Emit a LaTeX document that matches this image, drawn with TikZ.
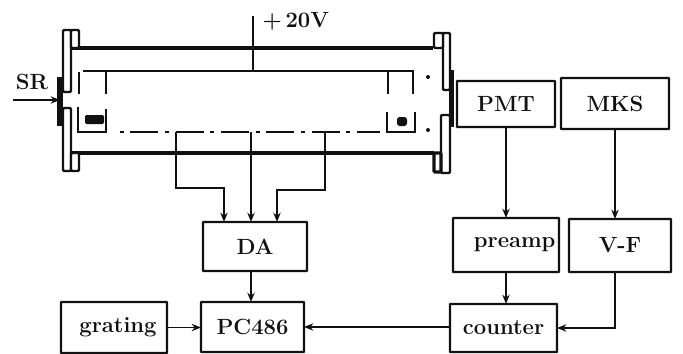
\RequirePackage{fix-cm}
\documentclass[tikz,border=0pt]{standalone}
\usepackage{amsmath}
\usepackage{xcolor}
\usetikzlibrary{arrows.meta,positioning,calc}
\definecolor{inkdark}{HTML}{111111}

\begin{document}
\begin{tikzpicture}[
  x=0.75pt, y=-0.75pt,
  boxfont/.style={font=\fontsize{16.5}{16.5}\selectfont\bfseries\color{inkdark}},
  blockbox/.style={boxfont, draw=inkdark, line width=1.8pt, rounded corners=0.5pt, inner sep=0pt, outer sep=0pt},
  tubewall/.style={draw=inkdark, line width=3.6pt},
  flange/.style={draw=inkdark, line width=1.8pt, fill=white, rounded corners=0.8pt},
  plate/.style={fill=inkdark},
  electrode/.style={draw=inkdark, line width=1.6pt},
  wire/.style={draw=inkdark, line width=1.6pt},
  sigwire/.style={wire, -{Stealth[length=7pt,width=5.5pt]}},
]
\useasboundingbox (0,0) rectangle (683,354);

% tube body
\draw[tubewall] (72,48) -- (433,48);
\draw[tubewall] (72,153) -- (434,153);
\draw[flange] (63,30) rectangle (71,92);
\draw[flange] (71,30) rectangle (79,48);
\draw[flange] (63,108) rectangle (71,171);
\draw[flange] (71,153) rectangle (79,171);
\draw[flange] (443,33) rectangle (450,90);
\draw[flange] (434,33) rectangle (443,48);
\draw[flange] (441,115) rectangle (450,173);
\draw[flange, line width=2.4pt] (434,153) rectangle (441,172);
\fill[plate] (57,77) rectangle (63,126);
\fill[plate] (449,70) rectangle (454,127);

% inner electrodes
\draw[electrode] (83,71) -- (413,71) -- (413,94);
\foreach \x in {79,106,388} {
  \draw[electrode] (\x,72) -- (\x,94);
}
\draw[electrode] (78,107) -- (78,132) -- (106,132) -- (106,109);
\draw[electrode] (387,112) -- (387,132) -- (415,132) -- (415,112);
\fill[inkdark, rounded corners=1pt] (85,115) rectangle (104,124);
\fill[inkdark, rounded corners=2pt] (397,117) rectangle (407,126);
\fill[inkdark] (428,77) circle (2);
\fill[inkdark] (428,130) circle (2);
\draw[electrode, dash pattern=on 21pt off 5pt on 3pt off 5pt, dash phase=24pt] (117,132) -- (380,132);

% blocks
\foreach \name/\x/\y/\w/\h/\txt in {
  pmt/506/104/98/46/PMT,
  mks/615/103.5/108/51/MKS,
  da/255/246.5/104/49/DA,
  pc/252.5/327/103/50/PC486,
  grating/114/327.5/106/51/{\hspace{6pt}grating},
  preamp/506/245/106/54/{\hspace{13pt}preamp},
  vf/620/245.5/102/53/V-F,
  counter/503.5/328/107/48/counter
} {
  \node[blockbox, minimum width=\w*0.75pt, minimum height=\h*0.75pt] (\name) at (\x,\y) {\txt};
}

% labels and free ends
\node[boxfont] (srlabel) at (32,82) {SR};
\node[boxfont, anchor=west] (hvlabel) at (258,21) {+\,20V};
\coordinate (srin) at (13,100);
\coordinate (srend) at (60,100);
\coordinate (hvtop) at (253,16);
\coordinate (hvend) at (253,71);
\coordinate (stema) at (176,132);
\coordinate (stemb) at (251,132);
\coordinate (stemc) at (325,132);
\coordinate (dakneea) at (224,188);
\coordinate (dakneec) at (277,190);

% connectors
\draw[sigwire] (srin) -- (srend);
\draw[wire] (hvtop) -- (hvend);
\draw[sigwire] (stema) |- (dakneea) -- (dakneea |- da.north);
\draw[sigwire] (stemb) -- (stemb |- da.north);
\draw[sigwire] (stemc) |- (dakneec) -- (dakneec |- da.north);
\draw[sigwire, line width=2.2pt] (da.south -| stemb) -- (stemb |- pc.north);
\draw[sigwire, line width=1.2pt] (grating.east) -- (grating.east -| pc.west);
\draw[sigwire, line width=1.2pt] (counter.west |- pc.east) -- (pc.east);
\draw[sigwire] (pmt.south) -- (pmt.south |- preamp.north);
\draw[sigwire] (mks.south) -- (mks.south |- vf.north);
\draw[sigwire] (preamp.south) -- (preamp.south |- counter.north);
\draw[sigwire] (mks.south |- vf.south) |- (counter.east);
\end{tikzpicture}
\end{document}
